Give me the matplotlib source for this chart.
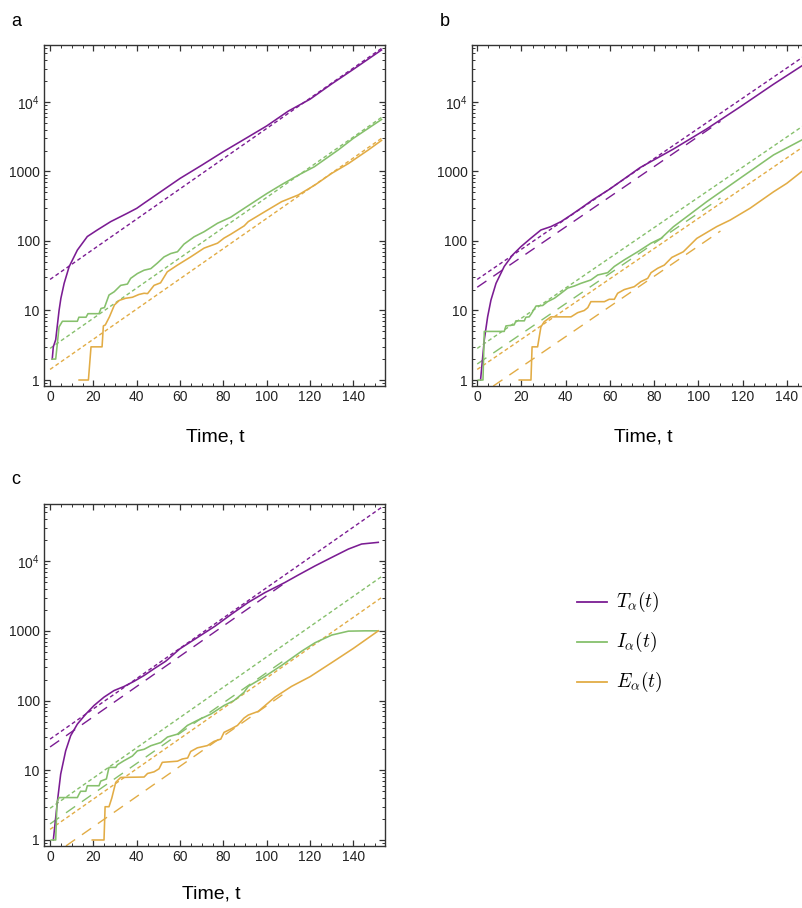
import matplotlib
matplotlib.use('Agg')
import matplotlib.pyplot as plt
from matplotlib.lines import Line2D
from matplotlib.ticker import FixedLocator, LogLocator, NullFormatter, MultipleLocator, FixedFormatter

# ---------------- data ----------------
# dashed exponential fits: two end points each
fit_short_t = [0, 153]
fit_T_short = [28, 59000]
fit_I_short = [2.85, 6000]
fit_E_short = [1.42, 3000]
fit_long_t = [0, 110]
fit_T_long = [21.6, 5270]
fit_I_long = [1.7, 415]
fit_E_long = [0.57, 139]

# panel a
a_T_t = [1, 1.5, 2.6, 4.15, 5, 6.5, 8.8, 12.6, 17.2, 21.8, 28, 35.7, 40, 43.4, 50, 60, 70, 80, 90, 100, 110, 120, 130, 140, 153]
a_T_y = [2, 3, 3.8, 10, 15, 24.6, 42.7, 74, 116, 144, 190, 251, 295, 350, 485, 795, 1230, 1930, 2950, 4520, 7400, 10960, 18200, 29500, 56000]
a_I_t = [1, 2.6, 3.2, 4.15, 5.7, 12.6, 13.3, 16.6, 17.5, 22.6, 23.5, 25.1, 27.2, 29.6, 32.6, 35.7, 37.2, 40.3, 43.4, 46.5, 49.5, 52.6, 55.7, 58.8, 61.8, 66.5, 71.1, 77.3, 83.4, 89.6, 100, 107, 115, 122, 133, 140, 153]
a_I_y = [2, 2, 3, 5.8, 7, 7, 8, 8, 9, 9, 10.7, 11, 16.7, 18.6, 23, 24, 29, 34, 38, 40, 48, 59, 66, 70, 90, 115, 136, 180, 220, 295, 480, 650, 900, 1170, 2040, 3000, 5600]
a_E_t = [13.4, 17.7, 18.9, 24, 24.6, 25.5, 27.4, 29.7, 32, 34.9, 38, 41, 43.4, 45, 48, 51, 54.1, 58.8, 64.9, 71.1, 77.3, 80.3, 83.4, 89.6, 91.5, 99.2, 106.9, 114.6, 122.3, 130, 137.7, 146.9, 153]
a_E_y = [1, 1, 3, 3, 6, 6.2, 8.1, 12, 14, 15, 15.5, 17, 17.7, 17.5, 23, 25, 36, 45, 59, 79, 93, 110, 125, 165, 190, 265, 368, 460, 640, 940, 1300, 2040, 2800]

# panel b
b_T_t = [1.5, 3.2, 4.7, 6.2, 8.5, 12.2, 16, 19.8, 24.3, 28.8, 33.3, 37.9, 42.4, 46.9, 52.2, 60, 73.6, 88.7, 103.8, 118.9, 134, 147, 152.4]
b_T_y = [1, 3.8, 8.1, 14.1, 24.6, 43, 63, 83, 110, 144, 161, 190, 236, 296, 390, 560, 1135, 2100, 4100, 8500, 18000, 33400, 42000]
b_I_t = [0.5, 2.6, 3.2, 12.2, 13, 16.7, 17.5, 21.3, 22, 23.5, 24.5, 26.6, 29.6, 31.8, 34.9, 37.9, 40.9, 43.9, 46.9, 51.4, 54.5, 59, 62, 66.5, 72.6, 78.6, 83.1, 88.7, 103.8, 118.9, 134, 146.8, 152.4]
b_I_y = [1, 1, 5, 5, 6, 6.2, 7.1, 7.1, 8, 8.1, 9, 11.6, 11.8, 13.4, 15, 17.7, 21, 22.5, 24.6, 27.5, 32.4, 35, 43, 53.5, 70, 93, 109, 160, 368, 800, 1730, 2840, 3700]
b_E_t = [19, 24.3, 24.8, 27.3, 28.8, 30.3, 33.3, 42.4, 45.4, 48.4, 50, 51.4, 57.5, 59.7, 62, 63.5, 66.5, 71, 74, 77.1, 78.6, 81.6, 84.6, 88, 93.2, 99.3, 108.3, 114.4, 123.4, 134, 140, 146.8, 152.4]
b_E_y = [1, 1, 3, 3, 5.8, 6.9, 8.1, 8.1, 9.3, 10, 11, 13.4, 13.4, 14.5, 14.5, 17.7, 20, 22, 26, 29, 35, 40.5, 45, 58, 70, 109, 161, 200, 296, 510, 675, 1000, 1300]

# panel c
c_T_t = [1.5, 3.4, 4.9, 7.2, 9.5, 12.6, 16.5, 20.3, 24.9, 29.5, 34.1, 38.8, 43.4, 48, 53.4, 60, 76.2, 83.8, 91.5, 99.2, 108.4, 114.6, 122.3, 130, 137.7, 143.8, 151.5]
c_T_y = [1, 3.6, 8.8, 19, 31.3, 46, 64, 85, 112, 139, 159, 189, 229, 286, 367, 555, 1170, 1740, 2560, 3540, 4940, 6330, 8540, 11300, 14900, 17600, 18600]
c_I_t = [0.6, 2.6, 3.2, 4.15, 12.6, 13.3, 14.1, 16.5, 17.2, 22.6, 23.4, 26, 27.2, 30.3, 31.1, 34.1, 38, 40.3, 43.4, 46.5, 51.1, 54.2, 58.8, 63.4, 68, 74.2, 80.3, 84.9, 89.5, 91.5, 99, 106.9, 116.1, 122.3, 130, 137.7, 145.4, 151.5]
c_I_y = [1, 1, 3.5, 4.06, 4.06, 4.5, 5, 5, 6, 6, 7, 7.5, 11, 11, 12, 13.7, 16, 19, 20, 22.5, 25, 30, 33, 44, 52, 64, 85, 100, 131, 160, 220, 320, 510, 675, 870, 990, 1000, 1000]
c_E_t = [19.5, 24.9, 25.4, 27.2, 28.5, 30.3, 32.6, 43.4, 45, 48, 50.3, 51.8, 58.8, 61, 63.5, 64.9, 68, 72.6, 75.7, 78.8, 80.3, 83.4, 86.5, 89.5, 91.5, 96.1, 103.8, 111.5, 120, 130, 140, 151.5]
c_E_y = [1, 1, 3, 3, 4, 6.7, 7.9, 8, 9, 9.5, 10.5, 13, 13.5, 14.5, 15, 18.6, 21, 22.6, 26, 28, 35, 39, 44, 56, 62, 70, 112, 160, 220, 350, 560, 1000]

y_ticks = [1, 10, 100, 1000, 10000]
y_tick_labels = ['1', '10', '100', '1000', r'$\mathregular{10^4}$']
x_ticks = [0, 20, 40, 60, 80, 100, 120, 140]
legend_labels = [r'$T_\alpha(t)$', r'$I_\alpha(t)$', r'$E_\alpha(t)$']
panel_letters = ['a', 'b', 'c']

# ---------------- style ----------------
PURPLE = '#7B1C93'
GREEN = '#86C06C'
ORANGE = '#E2AC45'
colors = [PURPLE, GREEN, ORANGE]

plt.rcParams['font.family'] = ['Liberation Sans', 'DejaVu Sans']

W, H = 802, 908
fig = plt.figure(figsize=(W / 100, H / 100), dpi=100)


def rect(l, t, r, b):
    return [l / W, 1 - b / H, (r - l) / W, (b - t) / H]


def style_axes(ax, xlim):
    ax.set_yscale('log')
    ax.set_xlim(*xlim)
    ax.set_ylim(0.82, 66000)
    ax.xaxis.set_major_locator(FixedLocator(x_ticks))
    ax.xaxis.set_minor_locator(MultipleLocator(5))
    ax.yaxis.set_major_locator(FixedLocator(y_ticks))
    ax.yaxis.set_major_formatter(FixedFormatter(y_tick_labels))
    ax.yaxis.set_minor_locator(LogLocator(base=10, subs=range(2, 10), numticks=20))
    ax.yaxis.set_minor_formatter(NullFormatter())
    ax.tick_params(which='both', direction='in', top=True, right=True,
                   color='#333333', labelsize=10, labelcolor='#222222')
    ax.tick_params(which='major', length=4, width=0.9)
    ax.tick_params(which='minor', length=2, width=0.7)
    ax.tick_params(axis='x', pad=3)
    ax.tick_params(axis='y', pad=3)
    for s in ax.spines.values():
        s.set_color('#333333')
        s.set_linewidth(1.0)


SHORT = (0, (2.8, 2.0))
LONG = (0, (8.0, 6.0))


def draw_panel(ax, curves, long_fits):
    fits = [fit_T_short, fit_I_short, fit_E_short]
    for c, fy in zip(colors, fits):
        ax.plot(fit_short_t, fy, color=c, lw=1.0, ls=SHORT, zorder=2)
    if long_fits:
        for c, fy in zip(colors, [fit_T_long, fit_I_long, fit_E_long]):
            ax.plot(fit_long_t, fy, color=c, lw=1.0, ls=LONG, zorder=2)
    for c, (t, y) in zip(colors, curves):
        ax.plot(t, y, color=c, lw=1.15, zorder=3, solid_joinstyle='round')


ax_a = fig.add_axes(rect(44, 45, 385, 386))
style_axes(ax_a, (-2.8, 154.6))
draw_panel(ax_a, [(a_T_t, a_T_y), (a_I_t, a_I_y), (a_E_t, a_E_y)], False)

ax_b = fig.add_axes(rect(471.7, 45, 814, 386))
style_axes(ax_b, (-2.5, 152.3))
draw_panel(ax_b, [(b_T_t, b_T_y), (b_I_t, b_I_y), (b_E_t, b_E_y)], True)

ax_c = fig.add_axes(rect(44, 504, 385, 846))
style_axes(ax_c, (-2.8, 154.6))
draw_panel(ax_c, [(c_T_t, c_T_y), (c_I_t, c_I_y), (c_E_t, c_E_y)], True)

# axis titles
fig.text(215 / W, 1 - 437 / H, 'Time, t', ha='center', va='center', fontsize=14)
fig.text(643 / W, 1 - 437 / H, 'Time, t', ha='center', va='center', fontsize=14)
fig.text(211 / W, 1 - 894 / H, 'Time, t', ha='center', va='center', fontsize=14)

# panel letters
fig.text(11 / W, 1 - 21 / H, panel_letters[0], ha='left', va='center', fontsize=13)
fig.text(440 / W, 1 - 21 / H, panel_letters[1], ha='left', va='center', fontsize=13)
fig.text(11 / W, 1 - 480 / H, panel_letters[2], ha='left', va='center', fontsize=13)

# legend
for i, (c, lab) in enumerate(zip(colors, legend_labels)):
    yy = 1 - (602 + 40 * i) / H
    fig.add_artist(Line2D([577 / W, 607 / W], [yy, yy], color=c, lw=1.3,
                          transform=fig.transFigure))
    fig.text(616 / W, yy, lab, ha='left', va='center', fontsize=14,
             math_fontfamily='cm')

fig.savefig('out.png', dpi=100)
